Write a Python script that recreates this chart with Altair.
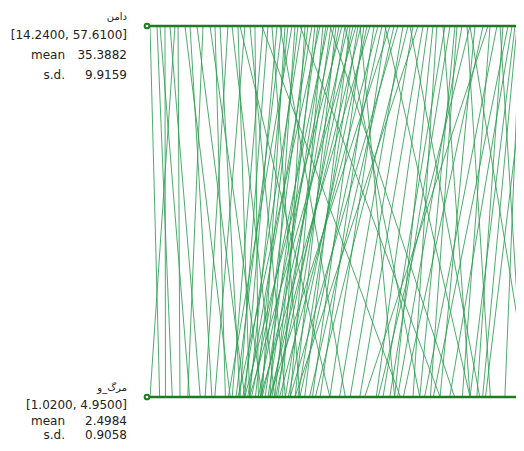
import altair as alt
import pandas as pd

# axis names
axis_names = ["دامن", "مرگ_و"]
axis_ranges = ["[14.2400, 57.6100]", "[1.0200, 4.9500]"]
axis_means = ["35.3882", "2.4984"]
axis_sds = ["9.9159", "0.9058"]

# values of first variable (top axis)
top_vals = [14.24, 15.04, 15.38, 15.95, 16.52, 17.44, 18.23, 18.81, 19.60, 20.29,
            21.09, 21.66, 22.23, 23.14, 23.60, 24.28, 25.08, 25.65, 26.22, 27.14,
            27.71, 28.16, 28.73, 29.31, 29.65, 29.99, 30.45, 30.79, 31.13, 31.59,
            31.93, 32.27, 32.73, 33.07, 33.41, 33.64, 33.98, 34.33, 34.56, 34.90,
            35.24, 35.47, 35.81, 36.15, 36.50, 36.84, 37.07, 37.41, 37.75, 37.98,
            38.32, 38.66, 39.01, 39.35, 39.81, 40.26, 40.72, 41.18, 41.63, 42.09,
            42.54, 43.12, 43.69, 44.26, 44.83, 45.40, 31.36, 34.78, 41.06, 27.02,
            36.50, 24.51, 38.21, 29.08, 43.91, 45.97, 46.54, 46.98, 47.68, 48.48,
            49.28, 49.85, 50.42, 51.33, 52.25, 53.05, 53.84, 54.53, 55.10, 55.56,
            56.13, 56.47, 50.76, 49.05, 47.91, 54.19, 52.82, 55.90, 17.09, 50.76,
            57.61]

# values of second variable (bottom axis)
bottom_vals = [1.12, 1.25, 1.43, 1.18, 1.54, 1.33, 1.85, 1.66, 2.00, 1.41,
               2.18, 1.80, 1.95, 1.59, 2.31, 2.05, 1.69, 2.42, 2.14, 1.87,
               1.95, 2.57, 2.00, 1.91, 2.18, 2.05, 1.83, 2.26, 2.11, 1.98,
               2.39, 2.16, 2.03, 2.31, 2.21, 1.93, 2.47, 2.24, 2.07, 2.34,
               2.14, 2.52, 2.28, 2.00, 2.42, 2.18, 2.62, 2.32, 2.05, 2.55,
               2.26, 2.70, 2.45, 2.16, 2.78, 2.36, 2.57, 2.88, 2.26, 2.67,
               2.47, 2.98, 2.73, 3.09, 2.52, 3.19, 4.02, 4.17, 4.33, 3.61,
               3.81, 2.88, 3.55, 3.04, 4.43, 3.36, 3.55, 3.74, 4.33, 3.50,
               3.92, 3.58, 4.54, 4.02, 3.64, 4.25, 3.86, 4.40, 3.95, 4.12,
               4.46, 4.69, 3.38, 3.81, 3.43, 4.88, 3.24, 4.33, 1.02, 4.95,
               4.49]

df = pd.DataFrame({
    "id": list(range(len(top_vals))),
    axis_names[0]: top_vals,
    axis_names[1]: bottom_vals,
})

axes_df = pd.DataFrame({
    "key": axis_names,
    "rng": axis_ranges,
    "mean": axis_means,
    "sd": axis_sds,
})

W = 366
H = 371
FULL = 380  # pixel length of the full value axis (extends past the view)

yscale = alt.Scale(type="point", domain=axis_names, padding=0)
yenc = alt.Y("key:N", scale=yscale, axis=None)

lines = alt.Chart(df).transform_fold(
    axis_names, as_=["key", "value"]
).transform_joinaggregate(
    vmin="min(value)", vmax="max(value)", groupby=["key"]
).transform_calculate(
    norm="(datum.value - datum.vmin) / (datum.vmax - datum.vmin)"
).mark_line(color="#2e9e52", strokeWidth=1, opacity=0.85, clip=True).encode(
    x=alt.X("norm:Q", scale=alt.Scale(domain=[0, W / FULL], nice=False, zero=False), axis=None),
    y=yenc,
    detail="id:N",
)

base = alt.Chart(axes_df)

rules = base.mark_rule(color="#1f7a22", strokeWidth=2.5).encode(
    y=yenc, x=alt.value(0), x2=alt.value(W)
)

dots = base.mark_point(shape="circle", size=22, filled=False, fill="white",
                       stroke="#1f7a22", strokeWidth=2, opacity=1).encode(
    y=yenc, x=alt.value(-3)
)

font = "DejaVu Sans"
tcolor = "#222222"


def text_layers(key, offs):
    b = base.transform_filter(alt.datum.key == key)
    common = dict(align="right", baseline="middle", color=tcolor)
    return [
        b.mark_text(dy=offs[0], fontSize=10, font=font, **common).encode(
            y=yenc, x=alt.value(-23), text="key:N"),
        b.mark_text(dy=offs[1], fontSize=12, font=font, **common).encode(
            y=yenc, x=alt.value(-23), text="rng:N"),
        b.mark_text(dy=offs[2], fontSize=12, font=font, text="mean", **common).encode(
            y=yenc, x=alt.value(-85)),
        b.mark_text(dy=offs[2], fontSize=12, font=font, **common).encode(
            y=yenc, x=alt.value(-23), text="mean:N"),
        b.mark_text(dy=offs[3], fontSize=12, font=font, text="s.d.", **common).encode(
            y=yenc, x=alt.value(-85)),
        b.mark_text(dy=offs[3], fontSize=12, font=font, **common).encode(
            y=yenc, x=alt.value(-23), text="sd:N"),
    ]


layers = [lines, rules, dots]
layers += text_layers(axis_names[0], [-9, 9, 29, 49])
layers += text_layers(axis_names[1], [-9, 8, 24, 38])

chart = alt.layer(*layers).properties(
    width=W, height=H,
    autosize=alt.AutoSizeParams(type="none"),
    padding={"left": 142, "top": 18, "right": 0, "bottom": 46},
    background="white",
).configure_view(stroke=None)

chart.save("out.html", embed_options={"renderer": "svg", "actions": False})
